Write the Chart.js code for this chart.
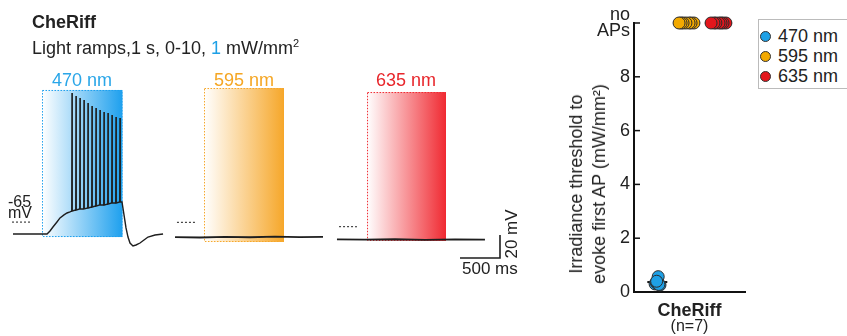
<!DOCTYPE html>
<html>
<head>
<meta charset="utf-8">
<script src="https://cdn.jsdelivr.net/npm/chart.js@4.4.1/dist/chart.umd.min.js"></script>
<style>
body { margin:0; width:847px; height:336px; overflow:hidden; background:#fff; position:relative;
       font-family:"Liberation Sans", Arial, sans-serif; color:#222; }
.t { position:absolute; white-space:nowrap; font-size:18px; line-height:20px; }
#traces { position:absolute; left:0; top:0; }
#thresh { position:absolute; left:540px; top:0; }
#legend { position:absolute; left:758px; top:19px; width:110px; height:68px; border:1px solid #bbb; background:#fff; }
#legend .dot { position:absolute; left:1px; width:11px; height:11px; border-radius:50%; border:1px solid #333; box-sizing:border-box; }
#legend .lab { position:absolute; left:19px; font-size:18px; line-height:20px; white-space:nowrap; }
</style>
</head>
<body>
<canvas id="traces" width="540" height="336"></canvas>
<canvas id="thresh" width="307" height="336"></canvas>

<div class="t" style="left:32px; top:12px; font-weight:bold;">CheRiff</div>
<div class="t" style="left:32px; top:38px;">Light ramps,1 s, 0-10, <span style="color:#1ea0e6">1</span> mW/mm<sup style="font-size:11px; vertical-align:7px; line-height:0;">2</sup></div>
<div class="t" style="left:52px; top:70px; color:#2aa6e8;">470 nm</div>
<div class="t" style="left:214px; top:70px; color:#f5a623;">595 nm</div>
<div class="t" style="left:376px; top:70px; color:#e8262b;">635 nm</div>
<div class="t" style="left:8px; top:192px; font-size:16px;">-65</div>
<div class="t" style="left:8px; top:203px; font-size:16px;">mV</div>
<div class="t" style="left:462px; top:259px; font-size:17px;">500 ms</div>
<div class="t" style="left:512px; top:234px; font-size:17px; transform:translate(-50%,-50%) rotate(-90deg);">20 mV</div>
<div class="t" style="left:588px; top:184px; line-height:23px; text-align:center; transform:translate(-50%,-50%) rotate(-90deg);">Irradiance threshold to<br>evoke first AP (mW/mm²)</div>

<div id="legend">
  <div class="dot" style="top:11px; background:#1ea0e6;"></div><div class="lab" style="top:6px;">470 nm</div>
  <div class="dot" style="top:31px; background:#f2a900;"></div><div class="lab" style="top:26px;">595 nm</div>
  <div class="dot" style="top:51px; background:#e3161c;"></div><div class="lab" style="top:46px;">635 nm</div>
</div>

<script>
// ---- left panel: membrane potential traces (time in ms, potential in mV)
var trace470T = [162, 588, 625, 662, 712, 750, 800, 838, 875, 1525, 1550, 1575, 1600, 1625, 1662, 1700, 1750, 1800, 1850, 1938, 2038];
var trace470V = [-75.4, -75.4, -72.7, -69.3, -64.9, -61.4, -58.8, -57.1, -56.2, -47.5, -58.8, -70.1, -78.0, -83.2, -85.8, -84.9, -83.2, -80.6, -78.0, -76.2, -75.4];
var spikeT    = [900, 950, 1000, 1050, 1100, 1150, 1200, 1250, 1300, 1350, 1400, 1450, 1500];
var spikePeak = [47.2, 44.6, 42.8, 41.1, 38.5, 35.9, 34.1, 32.4, 30.7, 29.8, 28.1, 26.3, 25.5];
var spikeBase = [-55.4, -54.5, -53.6, -53.6, -52.8, -51.9, -51.0, -50.2, -50.2, -49.3, -48.4, -48.4, -47.5];
var trace595T = [2188, 2500, 2812, 3125, 3438, 3750, 4038];
var trace595V = [-78.0, -78.4, -77.8, -78.2, -77.6, -78.1, -77.8];
var trace635T = [4212, 4562, 4938, 5312, 5688, 6062];
var trace635V = [-80.0, -80.2, -79.9, -80.4, -80.0, -80.2];
var restT0 = [150, 2212, 4238];
var restT1 = [400, 2438, 4462];
var restV  = [-65.0, -65.2, -69.0];
var rampStart  = [525, 2550, 4588];
var rampEnd    = [1531, 3550, 5575];
var rampTop    = [49.8, 51.5, 48.0];
var rampBottom = [-78.0, -82.3, -81.4];
var rampColor  = ['#1ea0ee', '#f6a72a', '#f02a32'];
var barT = [5750, 6250, 6250];
var barV = [-96.2, -96.2, -76.2];

// ---- right panel: irradiance threshold per cell (10 = no APs)
var blueX = [0.95, 1.17, 1.00, 1.05, 1.12, 1.09, 1.02];
var blueY = [0.30, 0.26, 0.35, 0.32, 0.28, 0.57, 0.40];
var orangeX = [2.70, 2.57, 2.48, 2.34, 2.21, 2.12, 2.03];
var orangeY = [10, 10, 10, 10, 10, 10, 10];
var redX = [4.14, 4.01, 3.92, 3.83, 3.69, 3.60, 3.47];
var redY = [10, 10, 10, 10, 10, 10, 10];
var meanX0 = [0.6, 1.8, 3.2];
var meanX1 = [1.5, 2.95, 4.4];
var meanY = [0.37, 10, 10];

function pts(xs, ys) {
  return xs.map(function(x, i) { return {x: x, y: ys[i]}; });
}

var trace470 = pts(trace470T, trace470V);
for (var i = 0; i < spikeT.length; i++) {
  trace470.push({x: spikeT[i] - 3, y: spikeBase[i]});
  trace470.push({x: spikeT[i], y: spikePeak[i]});
  trace470.push({x: spikeT[i] + 3, y: spikeBase[i]});
}
trace470.sort(function(a, b) { return a.x - b.x; });

var rampBoxes = {
  id: 'rampBoxes',
  beforeDatasetsDraw: function(chart) {
    var xs = chart.scales.x, ys = chart.scales.y, ctx = chart.ctx;
    ctx.save();
    for (var i = 0; i < rampStart.length; i++) {
      var x0 = xs.getPixelForValue(rampStart[i]), x1 = xs.getPixelForValue(rampEnd[i]);
      var y0 = ys.getPixelForValue(rampTop[i]), y1 = ys.getPixelForValue(rampBottom[i]);
      var g = ctx.createLinearGradient(x0, 0, x1, 0);
      g.addColorStop(0, '#ffffff');
      g.addColorStop(1, rampColor[i]);
      ctx.fillStyle = g;
      ctx.fillRect(x0, y0, x1 - x0, y1 - y0);
      ctx.setLineDash([1.5, 1.5]);
      ctx.lineWidth = 1;
      ctx.strokeStyle = rampColor[i];
      ctx.strokeRect(x0 + 0.5, y0 + 0.5, x1 - x0 - 1, y1 - y0 - 1);
    }
    ctx.restore();
  }
};

var lineSet = function(data, width, dash) {
  return { data: data, borderColor: '#1e1e1e', borderWidth: width, borderDash: dash || [],
           pointRadius: 0, showLine: true, tension: 0, clip: false };
};

var dsLeft = [
  lineSet(trace470, 1.4),
  lineSet(pts(trace595T, trace595V), 1.8),
  lineSet(pts(trace635T, trace635V), 1.8),
  lineSet(pts(barT, barV), 1.6)
];
for (var k = 0; k < restV.length; k++) {
  dsLeft.push(lineSet([{x: restT0[k], y: restV[k]}, {x: restT1[k], y: restV[k]}], 1, [2, 2]));
}

new Chart(document.getElementById('traces'), {
  type: 'scatter',
  data: { datasets: dsLeft },
  options: {
    responsive: false,
    animation: false,
    layout: { padding: 0 },
    plugins: { legend: { display: false }, tooltip: { enabled: false } },
    scales: {
      x: { type: 'linear', min: 0, max: 6750, display: false },
      y: { type: 'linear', min: -164, max: 128, display: false }
    }
  },
  plugins: [rampBoxes]
});

var innerTicks = {
  id: 'innerTicks',
  afterDatasetsDraw: function(chart) {
    var ys = chart.scales.y, ctx = chart.ctx, left = chart.chartArea.left;
    ctx.save();
    ctx.strokeStyle = '#111';
    ctx.lineWidth = 1.5;
    ys.ticks.forEach(function(t) {
      if (t.value === 0) return;
      var py = ys.getPixelForValue(t.value);
      ctx.beginPath(); ctx.moveTo(left, py); ctx.lineTo(left + 6, py); ctx.stroke();
    });
    ctx.restore();
  }
};

var dotSet = function(xs, ys, color) {
  return { data: pts(xs, ys), backgroundColor: color, borderColor: '#2b2b2b', borderWidth: 1,
           pointRadius: 6, clip: false };
};
var meanSet = function(k) {
  return { data: [{x: meanX0[k], y: meanY[k]}, {x: meanX1[k], y: meanY[k]}], borderColor: '#111',
           borderWidth: 2, pointRadius: 0, showLine: true, clip: false };
};

new Chart(document.getElementById('thresh'), {
  type: 'scatter',
  data: { datasets: [
    dotSet(blueX, blueY, '#1ea0e6'), meanSet(0),
    dotSet(orangeX, orangeY, '#f2a900'), meanSet(1),
    dotSet(redX, redY, '#e3161c'), meanSet(2)
  ] },
  options: {
    responsive: false,
    animation: false,
    layout: { padding: { top: 23, right: 102, left: 0, bottom: 0 } },
    plugins: { legend: { display: false }, tooltip: { enabled: false } },
    scales: {
      x: {
        type: 'linear', min: 0, max: 5,
        afterFit: function(s) { s.height = 44; },
        afterBuildTicks: function(s) { s.ticks = [{value: 2.5}]; },
        grid: { display: false },
        border: { display: true, color: '#111', width: 2 },
        ticks: { callback: function() { return 'CheRiff'; }, maxRotation: 0, padding: 0, color: '#222',
                 font: { family: 'Liberation Sans', size: 18, weight: 'bold' } },
        title: { display: true, text: '(n=7)', color: '#222', padding: { top: 0, bottom: 0 },
                 font: { family: 'Liberation Sans', size: 16 } }
      },
      y: {
        type: 'linear', min: 0, max: 10,
        afterFit: function(s) { s.width = 94; },
        grid: { display: false, drawTicks: false },
        border: { display: true, color: '#111', width: 2 },
        ticks: {
          stepSize: 1, padding: 4, color: '#222',
          font: { family: 'Liberation Sans', size: 18, lineHeight: 0.9 },
          callback: function(v) {
            if (v % 2) return '';
            return v === 10 ? ['no', 'APs'] : v;
          }
        }
      }
    }
  },
  plugins: [innerTicks]
});
</script>
</body>
</html>
